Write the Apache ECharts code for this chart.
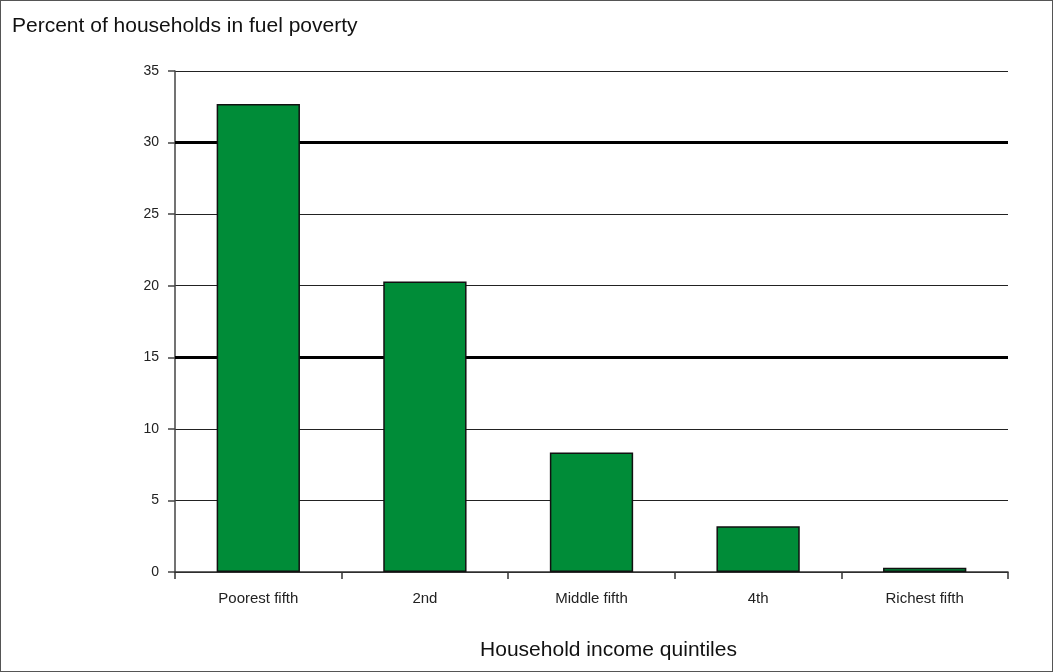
<!DOCTYPE html>
<html>
<head>
<meta charset="utf-8">
<script src="https://cdn.jsdelivr.net/npm/echarts@6/dist/echarts.min.js"></script>
<style>
  html, body { margin: 0; padding: 0; background: #fff; }
  #chart { width: 1053px; height: 672px; box-sizing: border-box; border: 1px solid #555; }
</style>
</head>
<body>
<div id="chart"></div>
<script>
const categories = ['Poorest fifth', '2nd', 'Middle fifth', '4th', 'Richest fifth'];
const fuelPoverty = [32.7, 20.3, 8.35, 3.2, 0.3];
const heavyGridLines = [15, 30];

const chart = echarts.init(document.getElementById('chart'));

chart.setOption({
  animation: false,
  textStyle: { fontFamily: 'Liberation Sans, Arial, sans-serif' },
  title: {
    text: 'Percent of households in fuel poverty',
    left: 6,
    top: 10,
    textStyle: { fontSize: 21, fontWeight: 'normal', color: '#111' }
  },
  grid: { left: 174, right: 44, top: 70, bottom: 99 },
  xAxis: {
    type: 'category',
    data: categories,
    name: 'Household income quintiles',
    nameLocation: 'middle',
    nameGap: 68,
    nameTextStyle: { fontSize: 21, color: '#111', padding: [0, 0, 0, 34] },
    axisLine: { lineStyle: { color: '#333', width: 1.5 } },
    axisTick: { show: true, length: 7, lineStyle: { color: '#333', width: 1.5 } },
    axisLabel: { fontSize: 15, color: '#222', margin: 19 }
  },
  yAxis: {
    type: 'value',
    min: 0,
    max: 35,
    interval: 5,
    axisLine: { show: true, lineStyle: { color: '#444', width: 1.5 } },
    axisTick: { show: true, length: 7, lineStyle: { color: '#444', width: 1.5 } },
    axisLabel: { fontSize: 14, color: '#222', margin: 16 },
    splitLine: { lineStyle: { color: '#222', width: 1.2 } }
  },
  series: [{
    type: 'bar',
    data: fuelPoverty,
    barWidth: '50%',
    itemStyle: { color: '#008c38', borderColor: '#111', borderWidth: 1.5 },
    markLine: {
      silent: true,
      symbol: 'none',
      label: { show: false },
      lineStyle: { color: '#000', width: 3, type: 'solid' },
      data: heavyGridLines.map(v => ({ yAxis: v })),
      z: 1
    },
    z: 3
  }]
});
</script>
</body>
</html>
